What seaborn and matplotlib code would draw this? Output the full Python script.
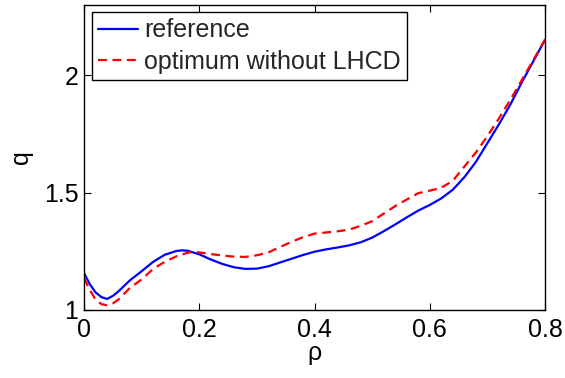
import matplotlib
matplotlib.use("Agg")
import matplotlib.pyplot as plt
import seaborn as sns
import pandas as pd

rho_ref = [0.00, 0.01, 0.02, 0.03, 0.04, 0.05, 0.06, 0.08, 0.10, 0.12, 0.14, 0.16, 0.17, 0.18,
           0.20, 0.22, 0.24, 0.26, 0.28, 0.30, 0.32, 0.34, 0.36, 0.38, 0.40, 0.42, 0.44, 0.46,
           0.48, 0.50, 0.52, 0.54, 0.56, 0.58, 0.60, 0.62, 0.64, 0.66, 0.68, 0.70, 0.72, 0.74,
           0.76, 0.78, 0.80]
q_ref = [1.157, 1.110, 1.075, 1.055, 1.047, 1.060, 1.080, 1.127, 1.165, 1.205, 1.235, 1.251, 1.254, 1.252,
         1.237, 1.215, 1.196, 1.182, 1.175, 1.176, 1.186, 1.202, 1.218, 1.234, 1.248, 1.258, 1.266, 1.275,
         1.288, 1.308, 1.335, 1.364, 1.394, 1.423, 1.447, 1.475, 1.512, 1.565, 1.630, 1.710, 1.790, 1.875,
         1.970, 2.060, 2.150]

rho_opt = [0.00, 0.01, 0.02, 0.03, 0.04, 0.05, 0.06, 0.08, 0.10, 0.12, 0.14, 0.16, 0.18, 0.19,
           0.20, 0.22, 0.24, 0.26, 0.28, 0.30, 0.32, 0.34, 0.36, 0.38, 0.40, 0.42, 0.44, 0.46,
           0.48, 0.50, 0.52, 0.54, 0.56, 0.58, 0.60, 0.62, 0.64, 0.66, 0.68, 0.70, 0.72, 0.74,
           0.76, 0.78, 0.80]
q_opt = [1.136, 1.085, 1.045, 1.025, 1.020, 1.028, 1.045, 1.095, 1.130, 1.175, 1.205, 1.228, 1.244, 1.247,
         1.245, 1.238, 1.232, 1.227, 1.226, 1.233, 1.245, 1.268, 1.290, 1.310, 1.325, 1.330, 1.335, 1.342,
         1.358, 1.378, 1.410, 1.442, 1.470, 1.497, 1.508, 1.520, 1.550, 1.610, 1.670, 1.740, 1.815, 1.895,
         1.980, 2.065, 2.150]

labels = ["reference", "optimum without LHCD"]
xticks = [0, 0.2, 0.4, 0.6, 0.8]
xticklabels = ["0", "0.2", "0.4", "0.6", "0.8"]
yticks = [1, 1.5, 2]
yticklabels = ["1", "1.5", "2"]

sns.set_theme(style="white")
plt.rcParams["font.family"] = ["Liberation Sans", "DejaVu Sans"]

fig = plt.figure(figsize=(5.65, 3.78), dpi=100)
ax = fig.add_axes([0.1487, 0.1799, 0.8159, 0.8081])

df_ref = pd.DataFrame({"rho": rho_ref, "q": q_ref})
df_opt = pd.DataFrame({"rho": rho_opt, "q": q_opt})
sns.lineplot(data=df_ref, x="rho", y="q", ax=ax, color="#0000ff", linewidth=1.6,
             label=labels[0], sort=False)
sns.lineplot(data=df_opt, x="rho", y="q", ax=ax, color="#ff0000", linewidth=1.6,
             linestyle=(0, (4, 2.5)), label=labels[1], sort=False)

ax.set_xlim(0, 0.8)
ax.set_ylim(1, 2.3)
ax.set_xticks(xticks)
ax.set_xticklabels(xticklabels)
ax.set_yticks(yticks)
ax.set_yticklabels(yticklabels)
ax.tick_params(direction="in", length=5, width=0.8, color="black", labelsize=18,
               top=True, right=True, bottom=True, left=True, labelcolor="black")
ax.tick_params(axis="x", pad=6)
ax.tick_params(axis="y", pad=4)
for s in ax.spines.values():
    s.set_visible(True)
    s.set_color("black")
    s.set_linewidth(1.0)
ax.set_xlabel("ρ", fontsize=18, labelpad=-1, color="black")
ax.set_ylabel("q", fontsize=18, labelpad=8, color="black")

leg = ax.legend(loc="upper left", fontsize=18, frameon=True, fancybox=False,
                edgecolor="black", borderpad=0.25, handlelength=1.6, handletextpad=0.25,
                labelspacing=0.3, borderaxespad=0.3, framealpha=1)
leg.get_frame().set_linewidth(1.0)

fig.savefig("out.png", dpi=100)
